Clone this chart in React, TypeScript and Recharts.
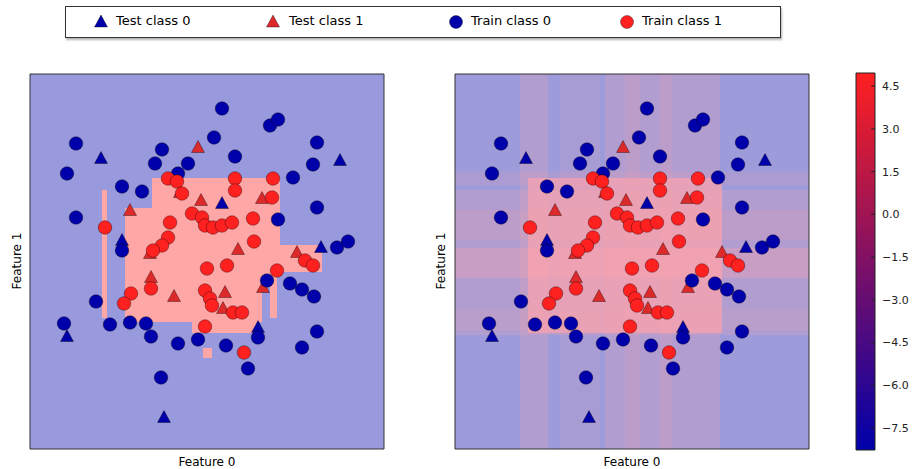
import React from "react";
import {
  ScatterChart,
  Scatter,
  ComposedChart,
  XAxis,
  YAxis,
  ReferenceArea,
  ReferenceLine,
} from "recharts";

// Two decision-surface panels (GBRT-style) + colorbar of the decision function.

const X_DOMAIN: [number, number] = [-1.77, 1.77];
const Y_DOMAIN: [number, number] = [-1.875, 1.875];

// train points, class 0 (blue circles)
const train0: [number, number][] = [
  [0.15, 1.53], [0.63, 1.36], [0.71, 1.42], [-1.31, 1.18], [0.07, 1.24],
  [1.1, 1.19], [-0.45, 1.12], [0.28, 1.05], [-0.52, 0.98], [-0.19, 0.98],
  [1.06, 0.97], [-1.4, 0.88], [-0.29, 0.88], [0.86, 0.84], [-0.85, 0.75],
  [-0.65, 0.7], [1.1, 0.54], [-1.31, 0.44], [0.71, 0.42], [-0.85, 0.11],
  [1.3, 0.14], [1.41, 0.2], [0.6, -0.19], [0.83, -0.22], [0.95, -0.28],
  [1.07, -0.35], [-1.11, -0.4], [-1.43, -0.62], [-0.97, -0.63], [-0.77, -0.61],
  [-0.61, -0.62], [-0.56, -0.75], [-0.29, -0.82], [-0.09, -0.78], [0.19, -0.84],
  [0.51, -0.76], [1.1, -0.7], [0.95, -0.86], [0.41, -1.07], [-0.46, -1.16],
];

// train points, class 1 (red circles)
const train1: [number, number][] = [
  [-0.39, 0.83], [-0.3, 0.8], [0.28, 0.83], [0.28, 0.71], [0.66, 0.83],
  [0.65, 0.64], [-0.25, 0.68], [-0.15, 0.48], [-0.05, 0.44], [-0.02, 0.36],
  [0.06, 0.34], [0.15, 0.36], [0.25, 0.39], [-0.37, 0.39], [0.46, 0.43],
  [-1.02, 0.34], [-0.39, 0.24], [-0.45, 0.16], [-0.54, 0.11], [0.47, 0.2],
  [0.98, 0.01], [1.06, -0.04], [0.0, -0.07], [0.2, -0.04], [0.7, -0.09],
  [-0.56, -0.27], [-0.76, -0.32], [-0.83, -0.42], [-0.02, -0.29], [0.03, -0.37],
  [0.05, -0.44], [0.26, -0.51], [0.35, -0.51], [-0.02, -0.65], [0.37, -0.91],
];

// test points
const test0: [number, number][] = [
  [-1.06, 1.03], [0.15, 0.58], [1.33, 1.01], [-0.85, 0.21],
  [1.14, 0.14], [-1.4, -0.75], [0.51, -0.66], [-0.43, -1.56],
];
const test1: [number, number][] = [
  [-0.09, 1.14], [-0.77, 0.51], [-0.06, 0.61], [-0.27, 0.69], [0.55, 0.63],
  [0.31, 0.12], [-0.57, 0.08], [0.9, 0.09], [-0.56, -0.16], [-0.33, -0.35],
  [0.18, -0.31], [0.16, -0.47], [0.56, -0.26],
];

// left panel: regions predicted as class 1 (x1, x2, y1, y2)
const class1Regions: [number, number, number, number][] = [
  [-0.55, 0.73, -0.135, 0.835],
  [-0.82, 0.55, -0.605, -0.135],
  [-0.82, -0.55, -0.135, 0.535],
  [-0.15, 0.51, -0.715, -0.605],
  [0.73, 1.15, -0.105, 0.165],
  [-1.05, -1.0, -0.565, 0.715],
  [0.63, 0.7, -0.565, -0.135],
  [-0.04, 0.05, -0.965, -0.865],
];

// right panel: smooth score bands (from, to, strength)
const scoreCols: [number, number, number][] = [
  [-1.12, -0.84, 0.2], [-0.72, -0.32, 0.12], [-0.27, 0.88, 0.2],
  [-0.07, 0.08, 0.15], [0.28, 0.4, 0.15],
];
const scoreRows: [number, number, number][] = [
  [0.765, 0.895, 0.15], [-0.735, 0.715, 0.2], [0.215, 0.515, 0.15],
  [-0.165, 0.135, 0.3], [-0.685, -0.485, 0.1],
];
const scoreCore: [number, number, number, number, number] = [-1.04, 0.9, -0.715, 0.835, 0.65];

// colorbar
const cbRange: [number, number] = [-8.27, 4.96];
const cbTicks = [4.5, 3.0, 1.5, 0.0, -1.5, -3.0, -4.5, -6.0, -7.5];

const BLUE = "#0000aa";
const RED = "#ff2020";
const FONT = "'DejaVu Sans', sans-serif";

const pts = (a: [number, number][]) => a.map(([x, y]) => ({ x, y }));

const dot = (fill: string) => (p: any) =>
  <circle cx={p.cx} cy={p.cy} r={6.8} fill={fill} stroke="#000" strokeWidth={0.6} strokeOpacity={0.6} />;

const tri = (fill: string) => (p: any) =>
  <polygon
    points={`${p.cx},${p.cy - 7} ${p.cx + 6.5},${p.cy + 5} ${p.cx - 6.5},${p.cy + 5}`}
    fill={fill}
    stroke="#000"
    strokeWidth={0.6}
    strokeOpacity={0.6}
  />;

function Panel({ left, smooth }: { left: number; smooth: boolean }) {
  const bg = smooth
    ? [
        <ReferenceArea key="base" x1={X_DOMAIN[0]} x2={X_DOMAIN[1]} y1={Y_DOMAIN[0]} y2={Y_DOMAIN[1]} fill="#9e9bda" fillOpacity={1} stroke="none" />,
        ...scoreCols.map(([a, b, s], i) => (
          <ReferenceArea key={"c" + i} x1={a} x2={b} y1={Y_DOMAIN[0]} y2={Y_DOMAIN[1]} fill="#ffa3ab" fillOpacity={s} stroke="none" />
        )),
        ...scoreRows.map(([a, b, s], i) => (
          <ReferenceArea key={"r" + i} x1={X_DOMAIN[0]} x2={X_DOMAIN[1]} y1={a} y2={b} fill="#ffa3ab" fillOpacity={s} stroke="none" />
        )),
        <ReferenceArea key="core" x1={scoreCore[0]} x2={scoreCore[1]} y1={scoreCore[2]} y2={scoreCore[3]} fill="#ffa3ab" fillOpacity={scoreCore[4]} stroke="none" />,
      ]
    : [
        <ReferenceArea key="base" x1={X_DOMAIN[0]} x2={X_DOMAIN[1]} y1={Y_DOMAIN[0]} y2={Y_DOMAIN[1]} fill="#9999dd" fillOpacity={1} stroke="none" />,
        ...class1Regions.map(([x1, x2, y1, y2], i) => (
          <ReferenceArea key={"p" + i} x1={x1} x2={x2} y1={y1} y2={y2} fill="#ffa6a6" fillOpacity={1} stroke="none" />
        )),
      ];

  return (
    <div style={{ position: "absolute", left, top: 0 }}>
      <ScatterChart width={420} height={469} margin={{ top: 74, right: 36, bottom: 20, left: 30 }}>
        <XAxis type="number" dataKey="x" domain={X_DOMAIN} allowDataOverflow hide />
        <YAxis type="number" dataKey="y" domain={Y_DOMAIN} allowDataOverflow hide />
        {bg}
        <Scatter data={pts(test0)} shape={tri(BLUE)} isAnimationActive={false} />
        <Scatter data={pts(test1)} shape={tri("#dc2a2a")} isAnimationActive={false} />
        <Scatter data={pts(train0)} shape={dot(BLUE)} isAnimationActive={false} />
        <Scatter data={pts(train1)} shape={dot(RED)} isAnimationActive={false} />
        <ReferenceArea x1={X_DOMAIN[0]} x2={X_DOMAIN[1]} y1={Y_DOMAIN[0]} y2={Y_DOMAIN[1]} fill="none" stroke="#333" strokeWidth={1} />
      </ScatterChart>
    </div>
  );
}

function Colorbar() {
  const data = [{ x: 0, y: cbRange[0] }, { x: 1, y: cbRange[1] }];
  return (
    <div style={{ position: "absolute", left: 846, top: 0 }}>
      <ComposedChart width={70} height={469} data={data} margin={{ top: 73, right: 0, bottom: 19, left: 10 }}>
        <defs>
          <linearGradient id="cbGrad" x1="0" y1="1" x2="0" y2="0">
            <stop offset="0%" stopColor={BLUE} />
            <stop offset="100%" stopColor={RED} />
          </linearGradient>
        </defs>
        <XAxis type="number" dataKey="x" domain={[0, 1]} hide />
        <YAxis
          type="number"
          dataKey="y"
          orientation="right"
          width={41}
          domain={cbRange}
          allowDataOverflow
          ticks={cbTicks}
          interval={0}
          tickFormatter={(v: number) => v.toFixed(1).replace("-", "\u2212")}
          tick={{ fontSize: 11, fill: "#222", fontFamily: FONT }}
          axisLine={false}
          tickLine={false}
          tickSize={4}
          tickMargin={3}
        />
        <ReferenceArea x1={0} x2={1} y1={cbRange[0]} y2={cbRange[1]} fill="url(#cbGrad)" fillOpacity={1} stroke="#222" strokeWidth={1} />
        {cbTicks.map((t) => (
          <ReferenceLine key={t} segment={[{ x: 0.8, y: t }, { x: 1, y: t }]} stroke="#222" strokeWidth={1} />
        ))}
      </ComposedChart>
    </div>
  );
}

const legendItems = [
  { label: "Test class 0", color: BLUE, shape: "tri", mx: 100, tx: 115 },
  { label: "Test class 1", color: "#dc2a2a", shape: "tri", mx: 272, tx: 288 },
  { label: "Train class 0", color: BLUE, shape: "dot", mx: 455, tx: 470 },
  { label: "Train class 1", color: RED, shape: "dot", mx: 626, tx: 641 },
];

function Legend() {
  return (
    <div
      style={{
        position: "absolute",
        left: 65,
        top: 6,
        width: 714,
        height: 30,
        border: "1px solid #333",
        background: "#fff",
        boxShadow: "1px 2px 2px rgba(0,0,0,0.3)",
      }}
    >
      {legendItems.map((it) => (
        <React.Fragment key={it.label}>
          <svg style={{ position: "absolute", left: it.mx - 65 - 8, top: 7 }} width={16} height={16}>
            {it.shape === "tri" ? (
              <polygon points="8,1 14.5,13 1.5,13" fill={it.color} stroke="#000" strokeWidth={0.6} strokeOpacity={0.6} />
            ) : (
              <circle cx={8} cy={8} r={6.5} fill={it.color} stroke="#000" strokeWidth={0.6} strokeOpacity={0.6} />
            )}
          </svg>
          <div
            style={{
              position: "absolute",
              left: it.tx - 65,
              top: 6,
              fontFamily: FONT,
              fontSize: 13,
              lineHeight: "16px",
              color: "#000",
              whiteSpace: "nowrap",
            }}
          >
            {it.label}
          </div>
        </React.Fragment>
      ))}
    </div>
  );
}

const labelStyle: React.CSSProperties = {
  position: "absolute",
  fontFamily: FONT,
  fontSize: 12,
  color: "#000",
  whiteSpace: "nowrap",
  lineHeight: "14px",
};

export default function App() {
  return (
    <div style={{ position: "absolute", left: 0, top: 0, width: 916, height: 469, background: "#fff", overflow: "hidden" }}>
      <Legend />
      <Panel left={0} smooth={false} />
      <Panel left={425} smooth={true} />
      <Colorbar />
      <div style={{ ...labelStyle, left: 207, top: 455, transform: "translateX(-50%)" }}>Feature 0</div>
      <div style={{ ...labelStyle, left: 632, top: 455, transform: "translateX(-50%)" }}>Feature 0</div>
      <div style={{ ...labelStyle, left: 17, top: 261, transform: "translate(-50%, -50%) rotate(-90deg)" }}>Feature 1</div>
      <div style={{ ...labelStyle, left: 441, top: 261, transform: "translate(-50%, -50%) rotate(-90deg)" }}>Feature 1</div>
    </div>
  );
}
